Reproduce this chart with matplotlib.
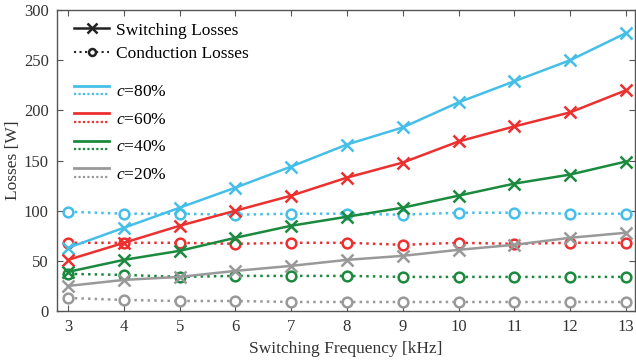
import matplotlib
matplotlib.use("Agg")
import matplotlib.pyplot as plt
from matplotlib.lines import Line2D
from matplotlib.legend_handler import HandlerBase

plt.rcParams['font.family'] = ['Liberation Serif', 'DejaVu Serif']
plt.rcParams['mathtext.fontset'] = 'custom'
plt.rcParams['mathtext.it'] = 'Liberation Serif:italic'
plt.rcParams['mathtext.rm'] = 'Liberation Serif'

freq = [3, 4, 5, 6, 7, 8, 9, 10, 11, 12, 13]

sw_80 = [63, 83, 103, 123, 144, 166, 183, 208, 229, 250, 277]
sw_60 = [51, 68, 85, 100, 115, 133, 148, 169, 184, 198, 220]
sw_40 = [39, 51, 60, 73, 85, 94, 103, 115, 127, 136, 149]
sw_20 = [25, 31, 34, 40, 45, 51, 55, 61, 66, 73, 78]

cond_80 = [99, 97, 97, 96, 97, 97, 96, 98, 98, 97, 97]
cond_60 = [68, 68, 68, 67, 68, 68, 66, 68, 67, 68, 68]
cond_40 = [37, 36, 34, 35, 35, 35, 34, 34, 34, 34, 34]
cond_20 = [13, 11, 10, 10, 9, 9, 9, 9, 9, 9, 9]

labels = ['$c$=80%', '$c$=60%', '$c$=40%', '$c$=20%']
colors = ['#45bfe8', '#ec3030', '#1b8a3e', '#999999']

sw = [sw_80, sw_60, sw_40, sw_20]
cond = [cond_80, cond_60, cond_40, cond_20]

fig = plt.figure(figsize=(6.36, 3.61), dpi=100)
ax = fig.add_axes([0.0896, 0.1385, 0.9084, 0.8335])

lw = 1.8
for s, c, col in zip(sw, cond, colors):
    ax.plot(freq, c, linestyle=':', color=col, lw=lw, marker='o', ms=7,
            mfc='white', mec=col, mew=1.8, zorder=2)
for s, c, col in zip(sw, cond, colors):
    ax.plot(freq, s, linestyle='-', color=col, lw=lw, marker='x', ms=8.5,
            mew=1.8, zorder=3)

ax.set_xlim(2.8, 13.16)
ax.set_ylim(0, 300)
ax.set_xticks(freq)
ax.set_yticks(range(0, 301, 50))
ax.tick_params(direction='in', top=True, right=True, labelsize=12,
               color='#555555', length=4, width=0.8, pad=6)
for sp in ax.spines.values():
    sp.set_color('#555555')
    sp.set_linewidth(1.0)
ax.set_xlabel('Switching Frequency [kHz]', fontsize=12.5, color='#333333')
ax.set_ylabel('Losses [W]', fontsize=12.5, color='#333333')
ax.yaxis.set_label_coords(-0.062, 0.5)
for t in ax.get_xticklabels() + ax.get_yticklabels():
    t.set_color('#333333')


class DoubleHandler(HandlerBase):
    def create_artists(self, legend, orig_handle, xdescent, ydescent,
                       width, height, fontsize, trans):
        col = orig_handle.get_color()
        y1 = height * 0.5 + 3
        y2 = height * 0.5 - 3
        l1 = Line2D([-xdescent, width - xdescent], [y1, y1], color=col, lw=2.0, transform=trans)
        l2 = Line2D([-xdescent, width - xdescent], [y2, y2], color=col, lw=1.6,
                    linestyle=(0, (1, 1)), transform=trans)
        return [l1, l2]


h1 = [Line2D([], [], color='#222222', lw=1.8, marker='x', ms=7, mew=1.8, ls='-'),
      Line2D([], [], color='#222222', lw=1.5, marker='o', ms=5, mfc='white', mew=1.8, ls=':')]
leg1 = ax.legend(h1, ['Switching Losses', 'Conduction Losses'], loc='upper left',
                 bbox_to_anchor=(0.0, 1.017), frameon=False, fontsize=12.5,
                 handlelength=2.0, handletextpad=0.4, labelspacing=0.45,
                 borderaxespad=0.6)
ax.add_artist(leg1)

h2 = [Line2D([], [], color=col) for col in colors]
leg2 = ax.legend(h2, labels, loc='upper left', bbox_to_anchor=(0.0, 0.812),
                 frameon=False, fontsize=12.5, handlelength=2.0, handletextpad=0.4,
                 labelspacing=0.65, borderaxespad=0.6,
                 handler_map={Line2D: DoubleHandler()})

fig.savefig('out.png', dpi=100)
